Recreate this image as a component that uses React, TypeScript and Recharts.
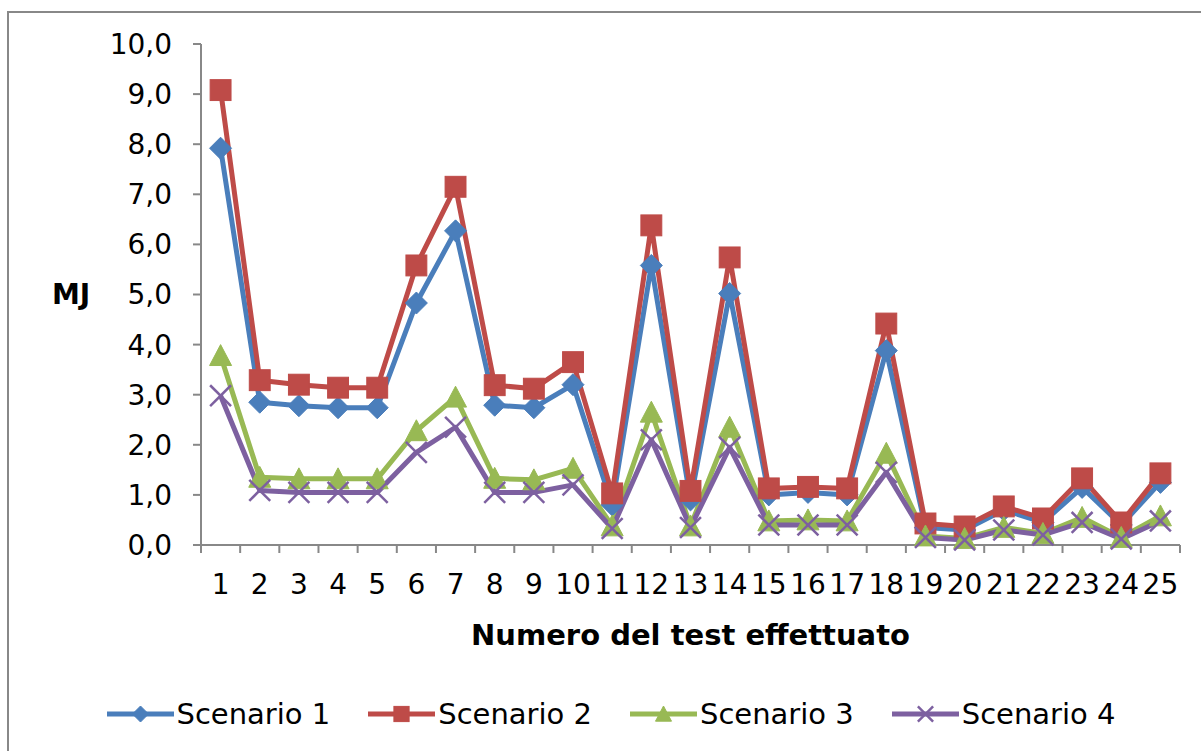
import { LineChart, Line, XAxis, YAxis, Legend } from 'recharts'

// test numbers (categories)
const tests = [1, 2, 3, 4, 5, 6, 7, 8, 9, 10, 11, 12, 13, 14, 15, 16, 17, 18, 19, 20, 21, 22, 23, 24, 25]

// MJ per scenario
const scenario1 = [7.92, 2.85, 2.78, 2.74, 2.74, 4.83, 6.27, 2.79, 2.74, 3.2, 0.8, 5.58, 0.9, 5.02, 1.0, 1.05, 1.0, 3.88, 0.35, 0.3, 0.7, 0.45, 1.15, 0.4, 1.25]
const scenario2 = [9.08, 3.29, 3.2, 3.14, 3.14, 5.58, 7.15, 3.19, 3.12, 3.65, 1.03, 6.38, 1.08, 5.74, 1.13, 1.16, 1.13, 4.42, 0.43, 0.37, 0.77, 0.53, 1.33, 0.45, 1.43]
const scenario3 = [3.78, 1.35, 1.32, 1.32, 1.32, 2.28, 2.95, 1.33, 1.3, 1.53, 0.38, 2.65, 0.38, 2.35, 0.48, 0.5, 0.48, 1.83, 0.18, 0.13, 0.35, 0.23, 0.55, 0.15, 0.58]
const scenario4 = [2.98, 1.09, 1.05, 1.05, 1.05, 1.85, 2.35, 1.05, 1.05, 1.2, 0.33, 2.1, 0.35, 1.95, 0.4, 0.4, 0.4, 1.45, 0.15, 0.1, 0.3, 0.2, 0.45, 0.12, 0.48]

const seriesNames = ['Scenario 1', 'Scenario 2', 'Scenario 3', 'Scenario 4']
const yTicks = [0, 1, 2, 3, 4, 5, 6, 7, 8, 9, 10]

const colors = ['#4A7EBB', '#BE4B48', '#98B954', '#7D60A0']
const markers = ['diamond', 'square', 'triangle', 'x']
const keys = ['s1', 's2', 's3', 's4']

const font = '"DejaVu Sans", Verdana, sans-serif'
const axisColor = '#888888'

const data = tests.map((t, i) => ({
  test: t,
  s1: scenario1[i],
  s2: scenario2[i],
  s3: scenario3[i],
  s4: scenario4[i],
}))

// labels on the integers, tick marks halfway between categories
const xTicks: number[] = []
tests.forEach((t) => {
  xTicks.push(t - 0.5)
  xTicks.push(t)
})
xTicks.push(tests[tests.length - 1] + 0.5)

function Marker({ kind, cx, cy, color, r }: { kind: string; cx: number; cy: number; color: string; r: number }) {
  if (kind === 'diamond') {
    return (
      <polygon
        points={`${cx},${cy - r} ${cx + r},${cy} ${cx},${cy + r} ${cx - r},${cy}`}
        fill={color}
        stroke={color}
        strokeWidth={1}
      />
    )
  }
  if (kind === 'square') {
    const s = r * 0.95
    return <rect x={cx - s} y={cy - s} width={s * 2} height={s * 2} fill={color} stroke={color} strokeWidth={1} />
  }
  if (kind === 'triangle') {
    return (
      <polygon
        points={`${cx},${cy - r} ${cx + r},${cy + r * 0.9} ${cx - r},${cy + r * 0.9}`}
        fill={color}
        stroke={color}
        strokeWidth={1}
      />
    )
  }
  const s = r * 0.95
  return (
    <g stroke={color} strokeWidth={2.5}>
      <line x1={cx - s} y1={cy - s} x2={cx + s} y2={cy + s} />
      <line x1={cx - s} y1={cy + s} x2={cx + s} y2={cy - s} />
    </g>
  )
}

const XTick = (props: any) => {
  const { x, y, payload } = props
  const v = payload.value
  if (!Number.isInteger(v)) {
    return <line x1={x} x2={x} y1={y} y2={y + 8} stroke={axisColor} strokeWidth={2} />
  }
  return (
    <text x={x} y={y + 49} textAnchor="middle" fontSize={28} fill="#000" fontFamily={font}>
      {v}
    </text>
  )
}

const LegendContent = () => (
  <div
    style={{
      display: 'flex',
      justifyContent: 'center',
      alignItems: 'center',
      paddingLeft: 14,
      fontFamily: font,
      fontSize: 29,
      color: '#000',
    }}
  >
    {seriesNames.map((name, i) => (
      <div key={name} style={{ display: 'flex', alignItems: 'center', marginRight: i < 3 ? 38 : 0 }}>
        <svg width={67} height={30}>
          <line x1={0} x2={67} y1={15} y2={15} stroke={colors[i]} strokeWidth={5} />
          <Marker kind={markers[i]} cx={33.5} cy={15} color={colors[i]} r={8} />
        </svg>
        <span style={{ marginLeft: 3, lineHeight: '30px' }}>{name}</span>
      </div>
    ))}
  </div>
)

export default function App() {
  return (
    <div
      style={{
        position: 'absolute',
        left: 7,
        top: 11,
        width: 1194,
        height: 740,
        borderLeft: `2px solid ${axisColor}`,
        borderTop: `2px solid ${axisColor}`,
        background: '#fff',
      }}
    >
      <LineChart width={1190} height={730} data={data} margin={{ top: 31, right: 19, bottom: 0, left: 0 }}>
        <XAxis
          dataKey="test"
          type="number"
          domain={[tests[0] - 0.5, tests[tests.length - 1] + 0.5]}
          ticks={xTicks}
          interval={0}
          height={198}
          tickLine={false}
          tickSize={0}
          tickMargin={0}
          axisLine={{ stroke: axisColor, strokeWidth: 2 }}
          tick={<XTick />}
          label={{
            value: 'Numero del test effettuato',
            position: 'insideTop',
            offset: 79,
            style: { fontSize: 29, fontWeight: 'bold', fill: '#000', fontFamily: font },
          }}
        />
        <YAxis
          domain={[0, 10]}
          ticks={yTicks}
          interval={0}
          width={192}
          tickSize={8}
          tickMargin={21}
          axisLine={{ stroke: axisColor, strokeWidth: 2 }}
          tickLine={{ stroke: axisColor, strokeWidth: 2 }}
          tick={{ fontSize: 28, fill: '#000', fontFamily: font }}
          tickFormatter={(v: number) => v.toFixed(1).replace('.', ',')}
          label={{
            value: 'MJ',
            position: 'insideLeft',
            offset: 43,
            style: { fontSize: 28, fontWeight: 'bold', fill: '#000', fontFamily: font },
          }}
        />
        <Legend
          layout="horizontal"
          verticalAlign="middle"
          align="center"
          wrapperStyle={{ top: 686, left: 0, width: 1190, height: 30 }}
          content={<LegendContent />}
        />
        {keys.map((k, i) => (
          <Line
            key={k}
            dataKey={k}
            name={seriesNames[i]}
            stroke={colors[i]}
            strokeWidth={5}
            strokeLinejoin="round"
            isAnimationActive={false}
            dot={(p: any) => (
              <Marker key={`${k}-${p.index}`} kind={markers[i]} cx={p.cx} cy={p.cy} color={colors[i]} r={11} />
            )}
            activeDot={false}
          />
        ))}
      </LineChart>
    </div>
  )
}
